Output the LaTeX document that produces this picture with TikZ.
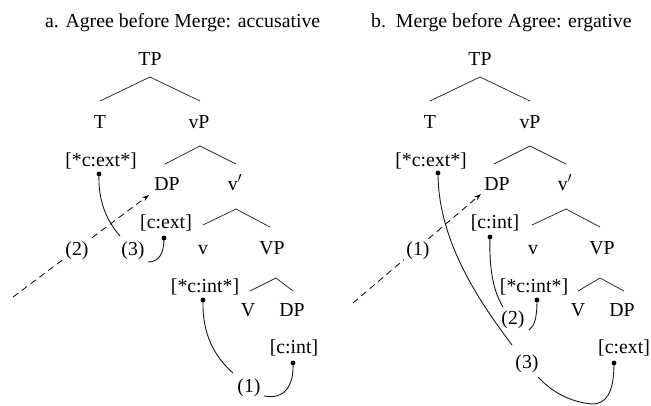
\documentclass[tikz,border=0pt]{standalone}
\usepackage{fontspec}
\setmainfont{Liberation Serif}
\usetikzlibrary{arrows.meta}
\begin{document}
\begin{tikzpicture}[x=1pt,y=-1pt,
  lab/.style={anchor=base,inner sep=0pt,font=\fontsize{19.8}{24}\selectfont},
  steplab/.style={lab,fill=white,inner sep=2.5pt},
  ttl/.style={anchor=base west,inner sep=0pt,font=\fontsize{19.8}{24}\selectfont},
  branch/.style={line width=0.75pt,draw=black!85},
  agree/.style={line width=0.9pt,draw=black!90},
  dotstart/.style={fill=black},
  mergearrow/.style={line width=0.8pt,dash pattern=on 6.5pt off 4.5pt,-{Stealth[length=7pt,width=4.5pt]}}
]
\useasboundingbox (0,0) rectangle (651,405);

% ---------------- panel a ----------------
\coordinate (aMs) at (13,297);
\coordinate (aMt) at (149,195);
\draw[mergearrow] (aMs) -- (aMt);

\node[ttl] (ta) at (45,27) {a. Agree before Merge: accusative};
\node[lab] (aTP) at (150,65) {TP};
\node[lab] (aT) at (100,128) {T};
\node[lab] (avP) at (199,128) {vP};
\node[lab] (aCE) at (101,166) {[*c:ext*]};
\node[lab] (aDP) at (167,190) {DP};
\node[lab] (avb) at (235,190) {v$'$};
\node[lab] (acE) at (166,228) {[c:ext]};
\node[lab] (av) at (203,254) {v};
\node[lab] (aVP) at (272,254) {VP};
\node[steplab] (a2) at (77,255) {(2)};
\node[lab] (a3) at (133,255) {(3)};
\node[lab] (aCI) at (205,292) {[*c:int*]};
\node[lab] (aV) at (248,316) {V};
\node[lab] (aDPo) at (292,316) {DP};
\node[lab] (acI) at (294,353) {[c:int]};
\node[lab] (a1) at (249,392) {(1)};

\coordinate (aTPx) at (150,77); \coordinate (aTPl) at (100,101); \coordinate (aTPr) at (200,101);
\coordinate (avPx) at (200,146); \coordinate (avPl) at (165,164); \coordinate (avPr) at (236,164);
\coordinate (avbx) at (236,209); \coordinate (avbl) at (203,225); \coordinate (avbr) at (270,227);
\coordinate (aVPx) at (276,278); \coordinate (aVPl) at (250,291); \coordinate (aVPr) at (293,291);
\draw[branch] (aTPl) -- (aTPx) -- (aTPr);
\draw[branch] (avPl) -- (avPx) -- (avPr);
\draw[branch] (avbl) -- (avbx) -- (avbr);
\draw[branch] (aVPl) -- (aVPx) -- (aVPr);

\coordinate (aCEd) at (99,174);
\coordinate (a3e) at (120,236);
\coordinate (acEd) at (164,238);
\coordinate (acEe) at (148,262);
\coordinate (aCId) at (203,300);
\coordinate (a1e) at (233,373);
\coordinate (acId) at (293,363);
\coordinate (a1r) at (264,396);

\draw[agree] (aCEd) .. controls (98,200) and (106,220) .. (a3e);
\draw[agree] (acEd) .. controls (164,252) and (160,262) .. (acEe);
\draw[agree] (aCId) .. controls (202,335) and (215,357) .. (a1e);
\draw[agree] (acId) .. controls (294,385) and (285,400) .. (a1r);
\foreach \d in {aCEd,acEd,aCId,acId} \fill[dotstart] (\d) circle (2.4);

% ---------------- panel b ----------------
\coordinate (bMs) at (353,303);
\coordinate (bMt) at (481,194);
\draw[mergearrow] (bMs) -- (bMt);

\node[ttl] (tb) at (371,27) {b.\ \ Merge before Agree: ergative};
\node[lab] (bTP) at (480,65) {TP};
\node[lab] (bT) at (430,128) {T};
\node[lab] (bvP) at (530,128) {vP};
\node[lab] (bCE) at (431,166) {[*c:ext*]};
\node[lab] (bDP) at (497,190) {DP};
\node[lab] (bvb) at (565,190) {v$'$};
\node[lab] (bcI) at (495,228) {[c:int]};
\node[lab] (bv) at (533,254) {v};
\node[lab] (bVP) at (602,254) {VP};
\node[steplab] (b1) at (418,255) {(1)};
\node[lab] (bCI) at (534,292) {[*c:int*]};
\node[lab] (bV) at (578,316) {V};
\node[lab] (bDPo) at (622,316) {DP};
\node[lab] (b2) at (513,324) {(2)};
\node[lab] (bcE) at (624,353) {[c:ext]};
\node[lab] (b3) at (527,368) {(3)};

\coordinate (bTPx) at (480,77); \coordinate (bTPl) at (430,101); \coordinate (bTPr) at (530,101);
\coordinate (bvPx) at (530,146); \coordinate (bvPl) at (494,164); \coordinate (bvPr) at (566,164);
\coordinate (bvbx) at (566,209); \coordinate (bvbl) at (532,225); \coordinate (bvbr) at (600,227);
\coordinate (bVPx) at (600,278); \coordinate (bVPl) at (578,291); \coordinate (bVPr) at (624,291);
\draw[branch] (bTPl) -- (bTPx) -- (bTPr);
\draw[branch] (bvPl) -- (bvPx) -- (bvPr);
\draw[branch] (bvbl) -- (bvbx) -- (bvbr);
\draw[branch] (bVPl) -- (bVPx) -- (bVPr);

\coordinate (bCEd) at (438,173);
\coordinate (b3e) at (512,345);
\coordinate (bcId) at (490,237);
\coordinate (b2e) at (503,307);
\coordinate (bCId) at (537,300);
\coordinate (b2r) at (529,330);
\coordinate (bcEd) at (614,363);
\coordinate (bbot) at (592,404);
\coordinate (b3r) at (538,377);

\draw[agree] (bCEd) .. controls (438,240) and (478,300) .. (b3e);
\draw[agree] (bcId) .. controls (489,272) and (494,292) .. (b2e);
\draw[agree] (bCId) .. controls (537,320) and (534,326) .. (b2r);
\draw[agree] (bcEd) .. controls (614,395) and (605,404) .. (bbot) .. controls (570,402) and (552,392) .. (b3r);
\foreach \d in {bCEd,bcId,bCId,bcEd} \fill[dotstart] (\d) circle (2.4);
\end{tikzpicture}
\end{document}
